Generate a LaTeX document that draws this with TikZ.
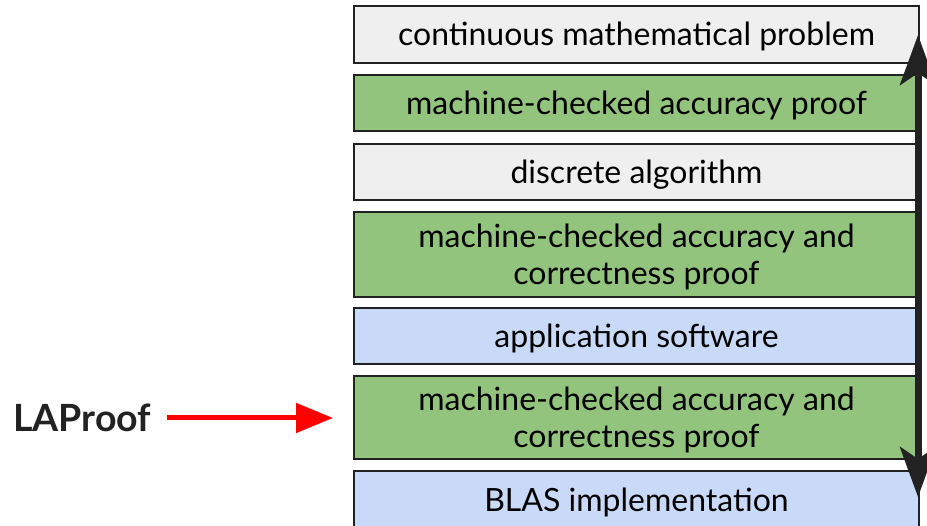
\documentclass[tikz,border=0pt]{standalone}
\usepackage{fontspec}
\setmainfont{Lato}
\usetikzlibrary{arrows.meta}
\definecolor{boxgray}{HTML}{EFEFEF}
\definecolor{boxgreen}{HTML}{93C47D}
\definecolor{boxblue}{HTML}{C9DAF8}
\definecolor{edge}{HTML}{222222}
\begin{document}
\begin{tikzpicture}[x=1pt,y=-1pt,
  layer/.style={draw=edge, line width=2pt, minimum width=565pt, inner sep=0pt,
    align=center, font=\fontsize{32}{37}\selectfont, text depth=1.5pt,
    text=black, anchor=north west},
  grey/.style={layer, fill=boxgray},
  green/.style={layer, fill=boxgreen},
  blue/.style={layer, fill=boxblue}]
\useasboundingbox (0,0) rectangle (927,526);
\clip (0,0) rectangle (927,526);
\node[grey,  minimum height=57pt] (b1) at (353,5)   {continuous mathematical problem};
\node[green, minimum height=56pt] (b2) at (353,74)  {machine-checked accuracy proof};
\node[grey,  minimum height=56pt] (b3) at (353,143) {discrete algorithm};
\node[green, minimum height=85pt] (b4) at (353,211) {machine-checked accuracy and\\correctness proof};
\node[blue,  minimum height=56pt] (b5) at (353,307) {application software};
\node[green, minimum height=83pt] (b6) at (353,375) {machine-checked accuracy and\\correctness proof};
\node[blue,  minimum height=59pt] (b7) at (353,470) {BLAS implementation};
% double-headed arrow spanning the stack
\coordinate (top) at (918,35);
\coordinate (bot) at (918,497);
\draw[edge, line width=7pt, {Stealth[length=50pt,width=36pt,inset=12pt]}-{Stealth[length=50pt,width=36pt,inset=12pt]}] (top) -- (bot);
% label with red pointer
\node[font=\fontsize{37.5}{40}\selectfont\bfseries, text=edge, anchor=west, inner sep=0pt] (lap) at (13,418) {LAProof};
\draw[red, line width=5pt, -{Triangle[length=37pt,width=29pt]}, shorten <=16pt, shorten >=20pt] (lap.east) -- (lap.east -| b6.west);
\end{tikzpicture}
\end{document}
